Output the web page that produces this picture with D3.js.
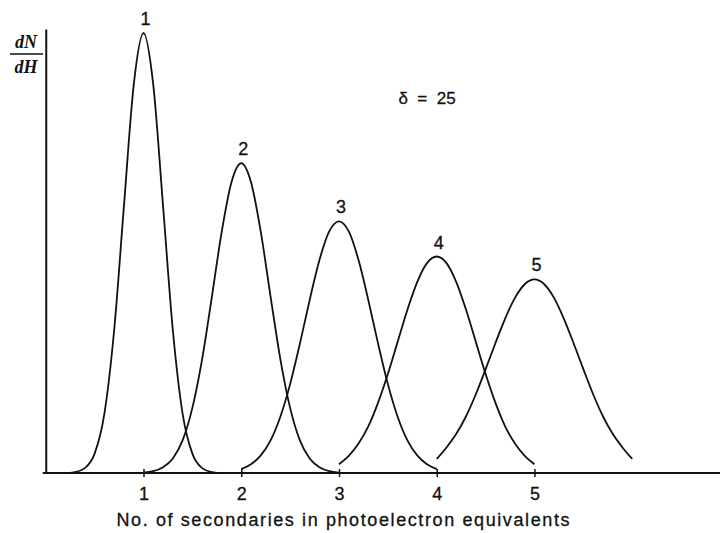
<!DOCTYPE html>
<html>
<head>
<meta charset="utf-8">
<script src="https://cdn.jsdelivr.net/npm/d3@7"></script>
<style>
    body { margin: 0; background: #fff; }
    text { font-family: "Liberation Sans", Arial, Helvetica, sans-serif; fill: #111; stroke: #111; stroke-width: 0.3px; }
    .serif { font-family: "Liberation Serif", "Times New Roman", serif; font-style: italic; font-weight: bold; stroke-width: 0; }
</style>
</head>
<body>
<div id="chart"></div>
<script>
// peak positions (in photoelectron equivalents)
const peaks = [1, 2, 3, 4, 5];
// sample offsets around each peak
const offsets = [-1.0, -0.9, -0.8, -0.7, -0.6, -0.5, -0.4, -0.3, -0.2, -0.1, 0, 0.1, 0.2, 0.3, 0.4, 0.5, 0.6, 0.7, 0.8, 0.9, 1.0];
// dN/dH, peak 1 = 1
const curve1 = [0, 0, 0, 0.002, 0.011, 0.044, 0.135, 0.325, 0.607, 0.882, 1.000, 0.882, 0.607, 0.325, 0.135, 0.044, 0.011, 0.002, 0, 0, 0];
const curve2 = [0.001, 0.004, 0.013, 0.033, 0.074, 0.148, 0.259, 0.401, 0.548, 0.661, 0.704, 0.661, 0.548, 0.401, 0.259, 0.148, 0.074, 0.033, 0.013, 0.004, 0.001];
const curve3 = [0.009, 0.020, 0.040, 0.074, 0.128, 0.202, 0.294, 0.393, 0.484, 0.549, 0.572, 0.549, 0.484, 0.393, 0.294, 0.202, 0.128, 0.074, 0.040, 0.020, 0.009];
const curve4 = [0.020, 0.039, 0.067, 0.106, 0.160, 0.225, 0.298, 0.371, 0.434, 0.477, 0.492, 0.477, 0.434, 0.371, 0.298, 0.225, 0.160, 0.106, 0.067, 0.039, 0.020];
const curve5 = [0.032, 0.058, 0.089, 0.129, 0.179, 0.236, 0.295, 0.351, 0.398, 0.429, 0.440, 0.429, 0.398, 0.351, 0.295, 0.236, 0.179, 0.129, 0.089, 0.058, 0.032];
const xTicks = [1, 2, 3, 4, 5];
const xTitle = "No. of secondaries in photoelectron equivalents";
const deltaLabel = "\u03b4  =  25";

let width = 720, height = 533;

let x = d3.scaleLinear().domain([0, 6.9]).range([45.75, 720.2]);
let y = d3.scaleLinear().domain([0, 1]).range([473, 33]);

let svg = d3.select("#chart").append("svg")
    .attr("width", width)
    .attr("height", height);

// build the series table from the arrays
let series = [curve1, curve2, curve3, curve4, curve5].map((vals, i) => ({
    label: peaks[i],
    points: vals.map((v, j) => ({ x: peaks[i] + offsets[j], y: v }))
}));

// x axis: ticks cross the baseline
let xAxis = d3.axisBottom(x)
    .tickValues(xTicks)
    .tickFormat(d3.format("d"))
    .tickSizeOuter(0)
    .tickSizeInner(4)
    .tickPadding(10);

let gx = svg.append("g")
    .attr("transform", "translate(0," + y(0) + ")")
    .call(xAxis);
gx.select(".domain").attr("stroke", "#111").attr("stroke-width", 2)
    .attr("d", "M" + (x(0) - 3) + ",0H" + x(6.9));
gx.selectAll(".tick line").attr("y1", -4).attr("y2", 4).attr("stroke", "#111").attr("stroke-width", 1.5);
gx.selectAll(".tick text").style("font-size", "18px").attr("fill", "#111");

// y axis: plain line, no ticks
let gy = svg.append("g")
    .attr("transform", "translate(" + x(0) + ",0)")
    .call(d3.axisLeft(y.copy().domain([0, 1.01]).range([473, 29])).ticks(0).tickSizeOuter(0));
gy.select(".domain").attr("stroke", "#111").attr("stroke-width", 2);

// curves
let line = d3.line()
    .x(d => x(d.x))
    .y(d => y(d.y))
    .curve(d3.curveMonotoneX);

svg.selectAll(".curve")
    .data(series)
    .enter().append("path")
    .attr("class", "curve")
    .attr("d", d => line(d.points))
    .attr("fill", "none")
    .attr("stroke", "#111")
    .attr("stroke-width", 1.8);

// peak labels
svg.selectAll(".peak-label")
    .data(series)
    .enter().append("text")
    .attr("class", "peak-label")
    .attr("x", d => x(d.label) + 2)
    .attr("y", d => y(d3.max(d.points, p => p.y)) - 8)
    .attr("text-anchor", "middle")
    .style("font-size", "18px")
    .text(d => d.label);

// axis title
svg.append("text")
    .attr("x", 343)
    .attr("y", 526)
    .attr("text-anchor", "middle")
    .attr("textLength", 453)
    .attr("lengthAdjust", "spacing")
    .style("font-size", "18px")
    .text(xTitle);

// delta annotation
svg.append("text")
    .attr("x", 427)
    .attr("y", 104)
    .attr("text-anchor", "middle")
    .style("font-size", "17px")
    .style("white-space", "pre")
    .text(deltaLabel);

// dN/dH fraction on the y axis
let frac = svg.append("g").attr("transform", "translate(26,0)");
frac.append("text").attr("class", "serif").attr("y", 48).attr("text-anchor", "middle").style("font-size", "18px").text("dN");
frac.append("line").attr("x1", -16).attr("x2", 17).attr("y1", 54).attr("y2", 54).attr("stroke", "#111").attr("stroke-width", 1.5);
frac.append("text").attr("class", "serif").attr("y", 73).attr("text-anchor", "middle").style("font-size", "18px").text("dH");
</script>
</body>
</html>
